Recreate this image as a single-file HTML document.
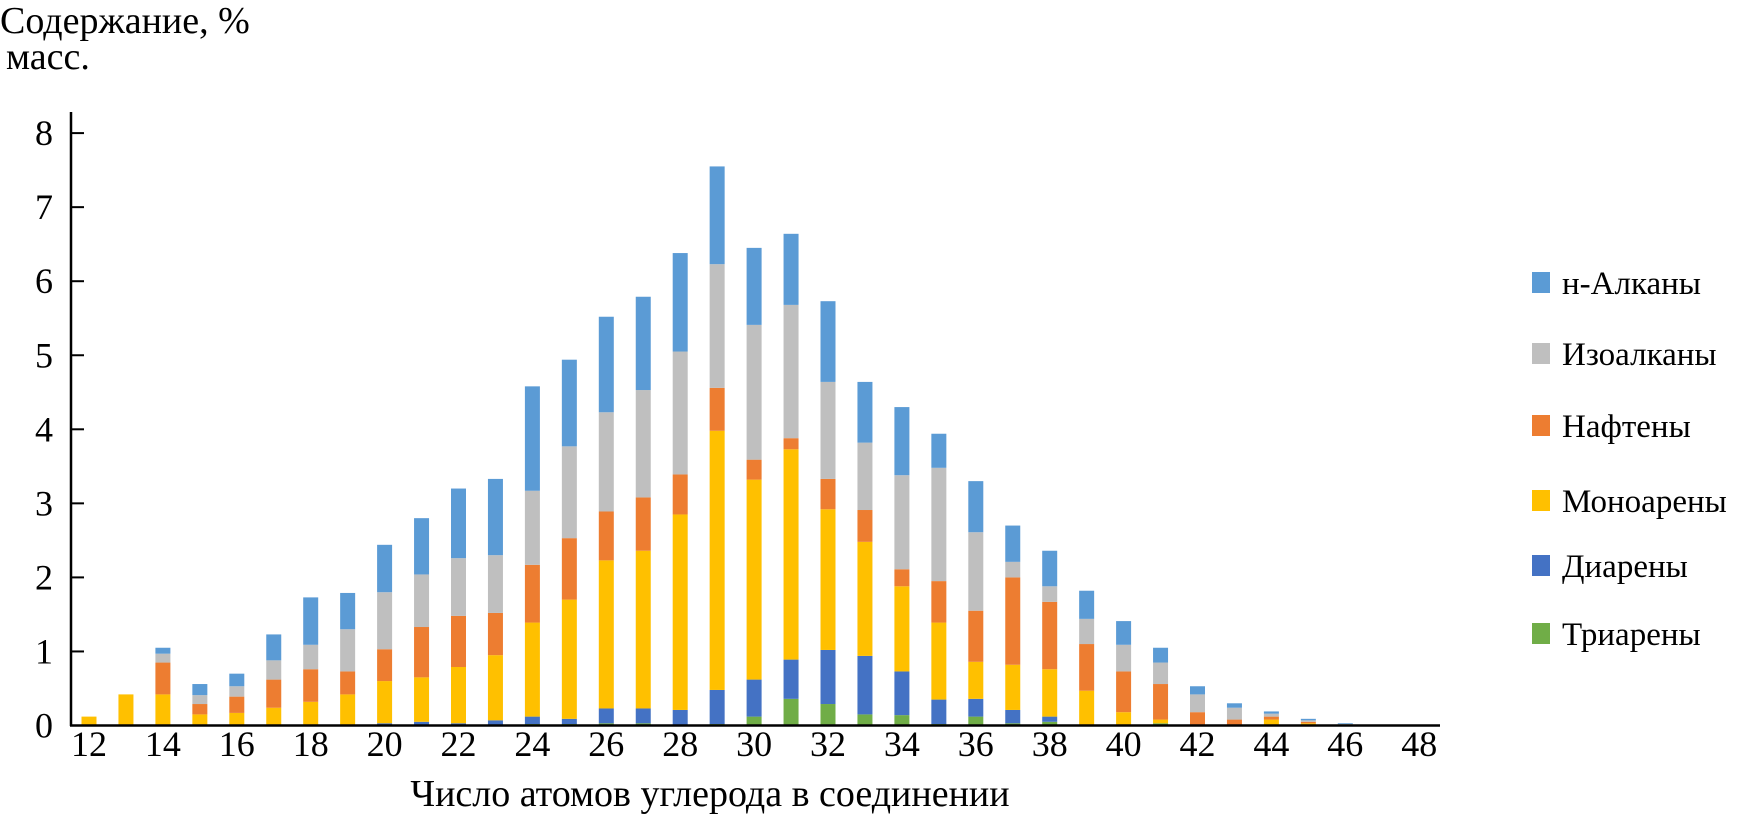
<!DOCTYPE html>
<html><head><meta charset="utf-8"><style>
body{margin:0;background:#fff;}
svg text{font-family:"Liberation Serif",serif;fill:#000;}
</style></head><body>
<svg width="1759" height="818" viewBox="0 0 1759 818">
<g id="plot"></g>
</svg>
<script>
const categories=[12,13,14,15,16,17,18,19,20,21,22,23,24,25,26,27,28,29,30,31,32,33,34,35,36,37,38,39,40,41,42,43,44,45,46];
// cumulative stack tops per series (bottom to top)
const triTop=[0,0,0,0,0,0,0,0,0,0,0,0,0.02,0.02,0.03,0.03,0,0.02,0.12,0.36,0.29,0.15,0.14,0.02,0.12,0.03,0.05,0,0,0.03,0,0,0,0,0];
const diaTop=[0,0,0,0,0,0,0,0,0.03,0.05,0.03,0.07,0.12,0.09,0.23,0.23,0.21,0.48,0.62,0.89,1.02,0.94,0.73,0.35,0.36,0.21,0.12,0,0,0.03,0,0,0,0,0];
const monoTop=[0.12,0.42,0.42,0.15,0.17,0.24,0.32,0.42,0.6,0.65,0.79,0.95,1.39,1.7,2.23,2.36,2.85,3.98,3.32,3.73,2.92,2.48,1.88,1.39,0.86,0.82,0.76,0.47,0.18,0.08,0,0,0.08,0.03,0];
const naphTop=[0.12,0.42,0.85,0.29,0.39,0.62,0.76,0.73,1.03,1.33,1.48,1.52,2.17,2.53,2.89,3.08,3.39,4.56,3.59,3.88,3.33,2.91,2.11,1.95,1.55,2.0,1.67,1.1,0.73,0.56,0.18,0.08,0.12,0.05,0];
const isoTop=[0.12,0.42,0.97,0.41,0.53,0.88,1.09,1.3,1.8,2.04,2.26,2.3,3.17,3.77,4.23,4.53,5.05,6.23,5.41,5.68,4.64,3.82,3.38,3.48,2.61,2.21,1.88,1.44,1.09,0.85,0.42,0.24,0.16,0.07,0.02];
const nalkTop=[0.12,0.42,1.05,0.56,0.7,1.23,1.73,1.79,2.44,2.8,3.2,3.33,4.58,4.94,5.52,5.79,6.38,7.55,6.45,6.64,5.73,4.64,4.3,3.94,3.3,2.7,2.36,1.82,1.41,1.05,0.53,0.3,0.19,0.09,0.03];
const yTicks=[0,1,2,3,4,5,6,7,8];
const xTicks=[12,14,16,18,20,22,24,26,28,30,32,34,36,38,40,42,44,46,48];
const seriesNames=["Триарены","Диарены","Моноарены","Нафтены","Изоалканы","н-Алканы"];
const seriesColors=["#70ad47","#4472c4","#ffc000","#ed7d31","#bfbfbf","#5b9bd5"];
const stacks=[triTop,diaTop,monoTop,naphTop,isoTop,nalkTop];

const NS="http://www.w3.org/2000/svg";
const g=document.getElementById('plot');
const X=c=>89+(c-12)*36.95;
const Y=v=>725.5-v*74.05;
function mk(t,a,txt){const e=document.createElementNS(NS,t);for(const k in a)e.setAttribute(k,a[k]);if(txt!==undefined)e.textContent=txt;g.appendChild(e);return e;}

categories.forEach((c,i)=>{
  let prev=0;
  stacks.forEach((s,k)=>{
    const top=s[i];
    if(top>prev){
      const r=mk('rect',{x:X(c)-7.5,y:Y(top),width:15,height:Y(prev)-Y(top),fill:seriesColors[k]});
      
      
    }
    prev=Math.max(prev,top);
  });
});
let ax=mk('line',{x1:71,y1:112,x2:71,y2:726,stroke:'#000','stroke-width':2.5});

ax=mk('line',{x1:70,y1:725.5,x2:1440,y2:725.5,stroke:'#000','stroke-width':2.5});

yTicks.forEach(v=>{
  let t=mk('line',{x1:71,y1:Y(v),x2:84,y2:Y(v),stroke:'#000','stroke-width':2});
  
  t=mk('text',{x:53,y:Y(v)+12,'font-size':36,'text-anchor':'end'},String(v));
  
});
xTicks.forEach(v=>{
  const t=mk('text',{x:X(v),y:756,'font-size':36,'text-anchor':'middle'},String(v));
  
});
let tt=mk('text',{x:0,y:33,'font-size':38},'Содержание, %');

tt=mk('text',{x:6,y:69,'font-size':38},'масс.');

tt=mk('text',{x:710,y:806,'font-size':38,'text-anchor':'middle'},'Число атомов углерода в соединении');

const legY=[634,566,501,426,354,283];
seriesNames.forEach((n,k)=>{
  let r=mk('rect',{x:1532,y:legY[k]-11,width:18,height:21,fill:seriesColors[k]});
  
  r=mk('text',{x:1562,y:legY[k]+11,'font-size':33},n);
  
});
</script>
</body></html>
